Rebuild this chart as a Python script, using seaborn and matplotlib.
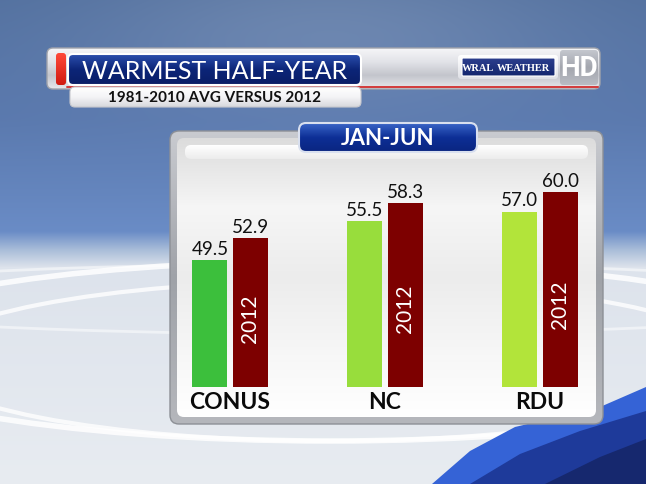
import numpy as np
import pandas as pd
import matplotlib
matplotlib.use("Agg")
import matplotlib.pyplot as plt
import seaborn as sns
from matplotlib.patches import FancyBboxPatch, Rectangle, Polygon, Ellipse
from matplotlib.colors import LinearSegmentedColormap, to_rgb

# ---------------- data ----------------
categories = ["CONUS", "NC", "RDU"]
avg_values = [49.5, 55.5, 57.0]
y2012_values = [52.9, 58.3, 60.0]
series_names = ["1981-2010 AVG", "2012"]
avg_colors = ["#3cbf3c", "#98dd3c", "#b2e43a"]
y2012_color = "#7d0000"
title_text = "WARMEST HALF-YEAR"
subtitle_text = "1981-2010 AVG VERSUS 2012"
period_text = "JAN-JUN"
inbar_label = "2012"

df = pd.DataFrame({
    "category": categories * 2,
    "value": avg_values + y2012_values,
    "series": [series_names[0]] * len(categories) + [series_names[1]] * len(categories),
})

sns.set_theme(style="white")
plt.rcParams['font.family'] = ['Lato', 'DejaVu Sans']

W, H = 646, 485
fig = plt.figure(figsize=(W / 100, H / 100), dpi=100)
bg = fig.add_axes([0, 0, 1, 1])
bg.axis('off')

# ---------------- sky background ----------------
stops_y = [0, 120, 232, 250, 268, 485]
stops_c = ["#52709f", "#5a79ae", "#6a8cc6", "#a8bcd8", "#dde3ec", "#e8ecf1"]
cols = np.array([to_rgb(c) for c in stops_c])
yy = np.arange(H)
img = np.zeros((H, W, 3))
for k in range(3):
    img[:, :, k] = np.interp(yy, stops_y, cols[:, k])[:, None]
xx, YY = np.meshgrid(np.arange(W), np.arange(H))
blob = np.exp(-(((xx - 330) / 240.0) ** 2 + ((YY - 30) / 80.0) ** 2)) * 0.14
blob *= (YY < 250)
img = img + (1 - img) * blob[:, :, None]
bg.imshow(img, extent=[0, W, H, 0], aspect='auto', zorder=0, interpolation='bilinear')

# white rings
for (cx, cy, w, h, lw, a) in [(330, 352, 1000, 180, 4, 0.85), (330, 362, 820, 160, 3, 0.8),
                             (330, 300, 1100, 70, 2, 0.5)]:
    bg.add_patch(Ellipse((cx, cy), w, h, fill=False, ec='white', lw=lw, alpha=a, zorder=1))

# blue swoosh bottom right
bg.add_patch(Polygon([(432, 485), (470, 452), (515, 428), (600, 408), (646, 388), (646, 485)],
                     closed=True, fc="#3563d6", ec='none', zorder=1))
bg.add_patch(Polygon([(470, 485), (520, 455), (580, 432), (646, 412), (646, 485)],
                     closed=True, fc="#1e3a9a", ec='none', zorder=1))
bg.add_patch(Polygon([(545, 485), (600, 458), (646, 440), (646, 485)],
                     closed=True, fc="#16286e", ec='none', zorder=1))


def grad_box(x0, y0, x1, y1, stops, rounding, ec='none', lw=0, z=2):
    patch = FancyBboxPatch((x0, y0), x1 - x0, y1 - y0,
                           boxstyle=f"round,pad=0,rounding_size={rounding}",
                           fc='none', ec=ec, lw=lw, zorder=z + 0.1)
    bg.add_patch(patch)
    cmap = LinearSegmentedColormap.from_list('g', stops)
    grad = np.linspace(0, 1, 256).reshape(-1, 1)
    im = bg.imshow(grad, cmap=cmap, extent=[x0, x1, y1, y0], aspect='auto',
                   zorder=z, interpolation='bilinear')
    im.set_clip_path(patch)
    return patch


# ---------------- header ----------------
grad_box(47, 49, 600, 90, ["#f6f6f8", "#e2e3e8", "#c3c5cc", "#e8e8ec"], 6, ec="#a0a3ab", lw=1, z=2)
bg.plot([67, 598], [87.5, 87.5], color="#d23a3a", lw=1.4, zorder=3)
grad_box(56, 54, 66, 86, ["#ff4a3a", "#d01a10"], 3, z=3)
grad_box(68, 55, 361, 86, ["#2c4fae", "#0c2578", "#0a1e66"], 5, ec="white", lw=1.5, z=4)
bg.text(215, 71.5, title_text, color='white', fontsize=18, ha='center', va='center', zorder=5)
grad_box(70, 88, 361, 108, ["#ffffff", "#f4f4f6", "#d6d7dc"], 5, ec="#c8c9ce", lw=0.8, z=3)
bg.text(215, 98.5, subtitle_text, color='#111111', fontsize=11, fontweight='bold',
        ha='center', va='center', zorder=5)

# logo
grad_box(458, 56, 558, 80, ["#ffffff", "#dfe0e6"], 3, z=3)
grad_box(462, 59, 555, 77, ["#2c3f8e", "#14266e"], 1, ec="white", lw=0.8, z=4)
bg.text(494, 68.5, "WRAL", color='white', fontsize=7.5, fontweight='bold', ha='right',
        va='center', family=['Liberation Serif', 'DejaVu Serif'], zorder=5)
bg.text(497, 68.5, "WEATHER", color='white', fontsize=7.5, fontweight='bold', ha='left',
        va='center', family=['Liberation Serif', 'DejaVu Serif'], zorder=5)
grad_box(560, 51, 598, 86, ["#c4c7ce", "#a3a6ae", "#b9bcc3"], 3, z=3)
bg.text(579, 68.5, "HD", color='white', fontsize=20, fontweight='bold', ha='center',
        va='center', family=['Roboto', 'DejaVu Sans'], zorder=5)

# ---------------- chart panel ----------------
grad_box(170, 132, 603, 425, ["#c9cbd0", "#9fa2a8", "#b5b7bc"], 9, ec="#8d9096", lw=1, z=2)
grad_box(177, 139, 596, 418, ["#dcdcdc", "#f6f6f6", "#ececec", "#f6f6f6", "#ffffff"], 7, z=3)
grad_box(185, 146, 588, 160, ["#ffffff", "#ececec"], 6, z=3.5)

# period banner
grad_box(299, 124, 477, 153, ["#3a66c8", "#0d2f96", "#0a2580"], 7, ec="#d9e0ef", lw=1.5, z=4)
bg.text(388, 139, period_text, color='white', fontsize=16, fontweight='bold',
        ha='center', va='center', zorder=5)

bg.set_xlim(0, W)
bg.set_ylim(H, 0)

# ---------------- bars ----------------
ax = fig.add_axes([152.5 / W, 97 / H, 465 / W, 260 / H])
ax.patch.set_alpha(0)
sns.barplot(data=df, x="category", y="value", hue="series",
            palette=[avg_colors[0], y2012_color], width=0.52, gap=0.13,
            saturation=1, legend=False, ax=ax)
for patch, col in zip(ax.containers[0], avg_colors):
    patch.set_facecolor(col)
for cont in ax.containers:
    for p in cont:
        p.set_edgecolor('none')
ax.set_ylim(30, 70)
ax.set_xlim(-0.5, len(categories) - 0.5)
for cont in ax.containers:
    ax.bar_label(cont, fmt="%.1f", padding=2.5, fontsize=13.5, color='#111111')
for p, v in zip(ax.containers[1], y2012_values):
    ax.text(p.get_x() + p.get_width() / 2, 30 + 0.3 * (v - 30), inbar_label,
            rotation=90, color='white', fontsize=15, ha='center', va='bottom')
sns.despine(ax=ax, left=True, bottom=True)
ax.set_xlabel("")
ax.set_ylabel("")
ax.set_yticks([])
ax.tick_params(axis='x', length=0, pad=3, labelsize=16.5, labelcolor='#0a0a0a')
for lab in ax.get_xticklabels():
    lab.set_fontweight('bold')

fig.savefig("out.png", dpi=100)
